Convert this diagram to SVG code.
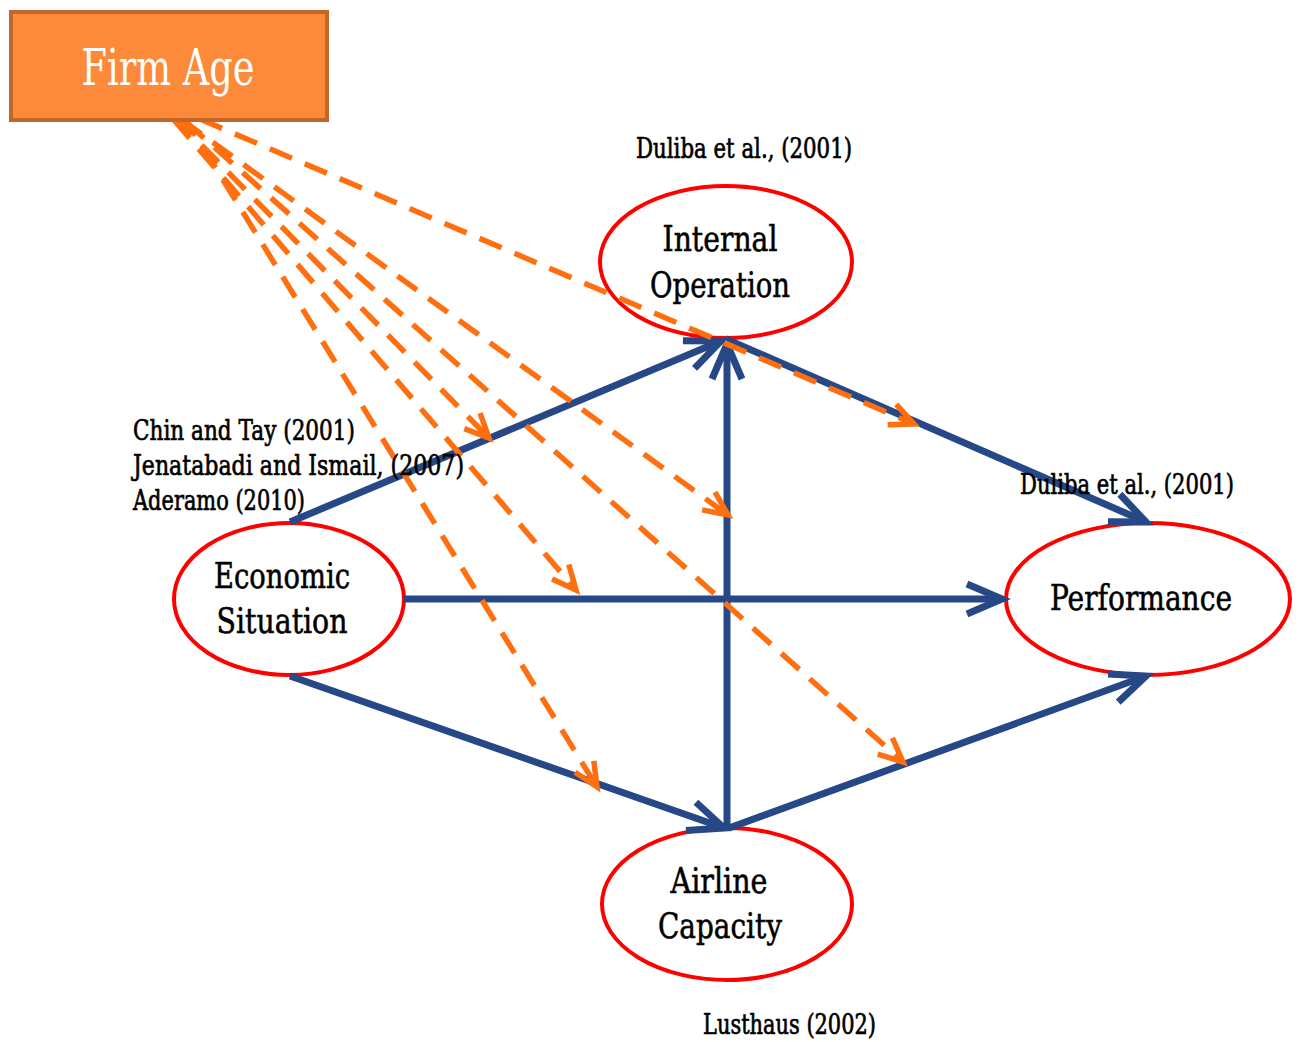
<svg xmlns="http://www.w3.org/2000/svg" width="1301" height="1042" viewBox="0 0 1301 1042">
<style>
  .node { fill: #FFFFFF; stroke: #FF0000; stroke-width: 4; }
  .lbl { font-family: "DejaVu Serif", "Liberation Serif", serif; fill: #000000; stroke: #000000; stroke-width: 0.6; text-anchor: middle; }
  .cite { font-family: "DejaVu Serif", "Liberation Serif", serif; fill: #000000; stroke: #000000; stroke-width: 0.7; font-size: 27px; }
  .blue { stroke: #274886; stroke-width: 7; fill: none; marker-end: url(#bArrow); }
  .dash { stroke: #FF6F0F; stroke-width: 5.5; fill: none; stroke-dasharray: 24 14; marker-end: url(#oArrow); }
</style>
<defs>
  <marker id="bArrow" markerUnits="userSpaceOnUse" refX="0" refY="0" markerWidth="80" markerHeight="80" orient="auto" overflow="visible">
    <path d="M-35,-15 L0,0 L-35,15" fill="none" stroke="#274886" stroke-width="7" stroke-linejoin="miter"/>
  </marker>
  <marker id="oArrow" markerUnits="userSpaceOnUse" refX="0" refY="0" markerWidth="60" markerHeight="60" orient="auto" overflow="visible">
    <path d="M-24,-11 L0,0 L-24,11" fill="none" stroke="#FF6F0F" stroke-width="5.5"/>
  </marker>
</defs>
<rect width="1301" height="1042" fill="#FFFFFF"/>

<g id="node-internal">
  <ellipse class="node" cx="726" cy="262" rx="126" ry="76"/>
  <text class="lbl" x="720" y="251" font-size="36" textLength="115" lengthAdjust="spacingAndGlyphs">Internal</text>
  <text class="lbl" x="720" y="297" font-size="36" textLength="140" lengthAdjust="spacingAndGlyphs">Operation</text>
</g>
<g id="node-economic">
  <ellipse class="node" cx="289" cy="599" rx="115" ry="76"/>
  <text class="lbl" x="282" y="588" font-size="36" textLength="136" lengthAdjust="spacingAndGlyphs">Economic</text>
  <text class="lbl" x="282" y="633" font-size="36" textLength="131" lengthAdjust="spacingAndGlyphs">Situation</text>
</g>
<g id="node-performance">
  <ellipse class="node" cx="1148" cy="599" rx="142" ry="76"/>
  <text class="lbl" x="1141" y="610" font-size="36" textLength="182" lengthAdjust="spacingAndGlyphs">Performance</text>
</g>
<g id="node-airline">
  <ellipse class="node" cx="727" cy="904" rx="125" ry="76"/>
  <text class="lbl" x="719" y="893" font-size="36" textLength="97" lengthAdjust="spacingAndGlyphs">Airline</text>
  <text class="lbl" x="720" y="938" font-size="36" textLength="124" lengthAdjust="spacingAndGlyphs">Capacity</text>
</g>

<g id="connectors">
  <line class="blue" x1="290" y1="522" x2="721" y2="341"/>
  <line class="blue" x1="727" y1="828" x2="727" y2="344" stroke-width="5"/>
  <line class="blue" x1="726" y1="339" x2="1146" y2="522"/>
  <line class="blue" x1="404" y1="599" x2="1002" y2="599"/>
  <line class="blue" x1="290" y1="676" x2="724" y2="828"/>
  <line class="blue" x1="729" y1="828" x2="1146" y2="676"/>

  <line class="dash" x1="165" y1="104" x2="914" y2="424"/>
  <line class="dash" x1="175" y1="118" x2="489" y2="438"/>
  <line class="dash" x1="182" y1="120" x2="728" y2="515"/>
  <line class="dash" x1="174" y1="120" x2="576" y2="590"/>
  <line class="dash" x1="186" y1="122" x2="903" y2="762"/>
  <line class="dash" x1="183" y1="115" x2="597" y2="787"/>
</g>

<g id="node-firmage">
  <rect x="11" y="12" width="316" height="108" fill="#FD8A3A" stroke="#C2662C" stroke-width="4"/>
  <text x="168" y="85" font-family="DejaVu Serif, Liberation Serif, serif" font-size="51" fill="#FFFFFF" text-anchor="middle" textLength="173" lengthAdjust="spacingAndGlyphs">Firm Age</text>
</g>

<g id="citations">
  <text class="cite" x="636" y="158" textLength="216" lengthAdjust="spacingAndGlyphs">Duliba et al., (2001)</text>
  <text class="cite" x="133" y="440" textLength="222" lengthAdjust="spacingAndGlyphs">Chin and Tay (2001)</text>
  <text class="cite" x="133" y="475" textLength="331" lengthAdjust="spacingAndGlyphs">Jenatabadi and Ismail, (2007)</text>
  <text class="cite" x="133" y="510" textLength="172" lengthAdjust="spacingAndGlyphs">Aderamo (2010)</text>
  <text class="cite" x="1020" y="494" textLength="214" lengthAdjust="spacingAndGlyphs">Duliba et al., (2001)</text>
  <text class="cite" x="703" y="1034" textLength="173" lengthAdjust="spacingAndGlyphs">Lusthaus (2002)</text>
</g>
</svg>
